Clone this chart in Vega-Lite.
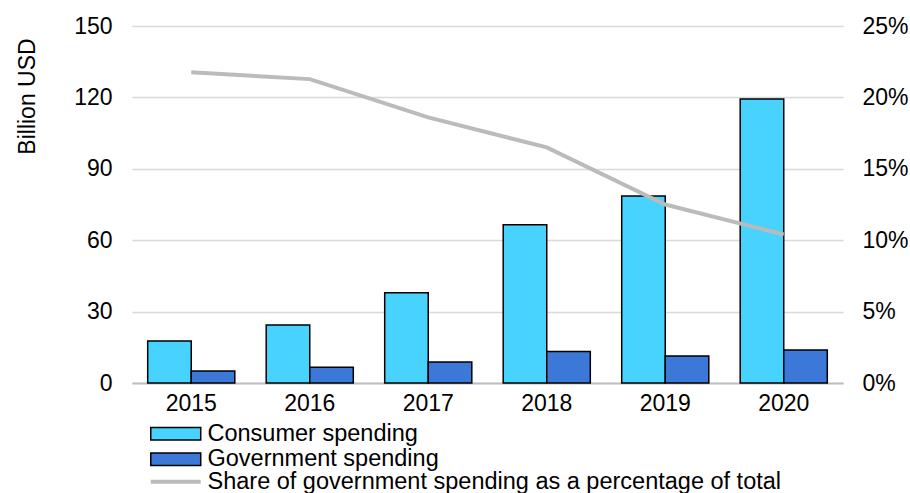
{
  "$schema": "https://vega.github.io/schema/vega-lite/v6.json",
  "autosize": "none",
  "width": 711,
  "height": 357,
  "padding": {"left": 132, "top": 26, "right": 67, "bottom": 110},
  "background": "white",
  "config": {
    "view": {"stroke": null},
    "font": "Liberation Sans",
    "axis": {"labelFont": "Liberation Sans", "titleFont": "Liberation Sans", "labelColor": "#000", "titleColor": "#000"}
  },
  "datasets": {
    "bars": [
      {"year": "2015", "series": "Consumer spending", "value": 17.6},
      {"year": "2015", "series": "Government spending", "value": 5.0},
      {"year": "2016", "series": "Consumer spending", "value": 24.4},
      {"year": "2016", "series": "Government spending", "value": 6.6},
      {"year": "2017", "series": "Consumer spending", "value": 37.9},
      {"year": "2017", "series": "Government spending", "value": 8.8},
      {"year": "2018", "series": "Consumer spending", "value": 66.5},
      {"year": "2018", "series": "Government spending", "value": 13.2},
      {"year": "2019", "series": "Consumer spending", "value": 78.6},
      {"year": "2019", "series": "Government spending", "value": 11.3},
      {"year": "2020", "series": "Consumer spending", "value": 119.3},
      {"year": "2020", "series": "Government spending", "value": 13.9}
    ],
    "share": [
      {"year": "2015", "share": 0.2176},
      {"year": "2016", "share": 0.2128},
      {"year": "2017", "share": 0.186},
      {"year": "2018", "share": 0.165},
      {"year": "2019", "share": 0.125},
      {"year": "2020", "share": 0.104}
    ]
  },
  "layer": [
    {
      "data": {"name": "bars"},
      "mark": {"type": "bar", "stroke": "#000", "strokeWidth": 1.5},
      "encoding": {
        "x": {
          "field": "year", "type": "nominal",
          "scale": {"paddingInner": 0.265, "paddingOuter": 0.1325},
          "axis": {
            "title": null, "labelAngle": 0, "labelFontSize": 23, "labelPadding": 9,
            "ticks": false, "domainColor": "#BFBFBF", "domainWidth": 2, "grid": false
          }
        },
        "xOffset": {"field": "series", "type": "nominal", "sort": ["Consumer spending", "Government spending"]},
        "y": {
          "field": "value", "type": "quantitative",
          "scale": {"domain": [0, 150], "nice": false},
          "axis": {
            "title": "Billion USD", "titleFontSize": 23, "titleFontWeight": "normal", "titlePadding": 34,
            "titleY": 70, "titleAlign": "center",
            "values": [0, 30, 60, 90, 120, 150], "labelFontSize": 23, "labelPadding": 20,
            "ticks": false, "domain": false, "grid": true, "gridColor": "#D9D9D9", "gridWidth": 1.5
          }
        },
        "fill": {
          "field": "series", "type": "nominal",
          "scale": {
            "domain": ["Consumer spending", "Government spending"],
            "range": ["#47D3FE", "#3C78D8"]
          },
          "legend": {
            "orient": "none", "legendX": 32, "legendY": 396, "direction": "vertical", "title": null,
            "padding": 0, "labelFont": "Liberation Sans", "labelFontSize": 23.5, "labelColor": "#000", "labelLimit": 800,
            "symbolType": "M-4,-1H4V1H-4Z", "symbolSize": 156, "labelOffset": 20, "rowPadding": 0.5,
            "symbolOpacity": 1, "symbolStrokeColor": "#000", "symbolStrokeWidth": 1.5
          }
        }
      }
    },
    {
      "data": {"name": "share"},
      "mark": {"type": "line", "strokeWidth": 4},
      "encoding": {
        "x": {"field": "year", "type": "nominal"},
        "y": {
          "field": "share", "type": "quantitative",
          "scale": {"domain": [0, 0.25], "nice": false},
          "axis": {
            "orient": "right", "title": null, "format": ".0%",
            "values": [0, 0.05, 0.1, 0.15, 0.2, 0.25], "labelFontSize": 23, "labelPadding": 19,
            "ticks": false, "domain": false, "grid": false
          }
        },
        "stroke": {
          "datum": "Share of government spending as a percentage of total", "type": "nominal",
          "scale": {"range": ["#BBBBBB"]},
          "legend": {
            "orient": "none", "legendX": 32, "legendY": 444, "direction": "vertical", "title": null,
            "padding": 0, "labelFont": "Liberation Sans", "labelFontSize": 23.5, "labelColor": "#000", "labelLimit": 800,
            "symbolType": "M-4,0H4", "symbolSize": 156, "labelOffset": 20, "symbolStrokeWidth": 4, "symbolOpacity": 1
          }
        }
      }
    }
  ],
  "resolve": {"scale": {"y": "independent"}}
}
